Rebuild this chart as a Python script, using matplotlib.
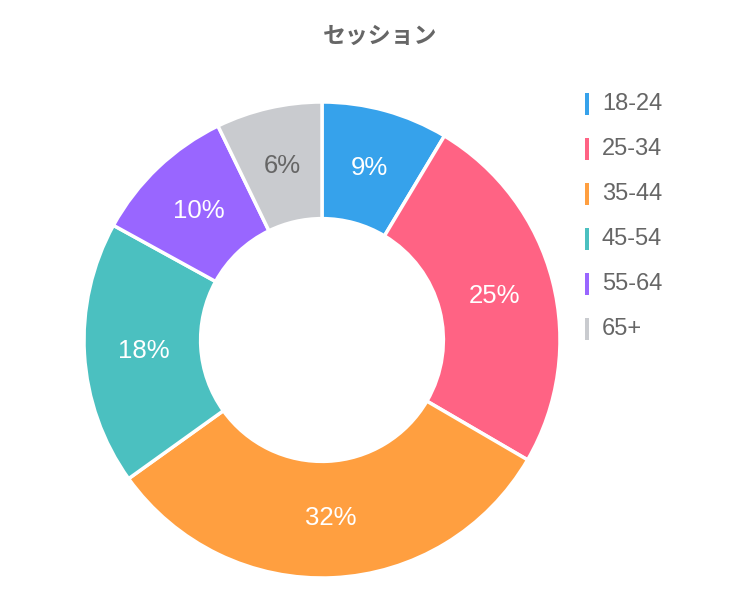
import matplotlib
matplotlib.use("Agg")
import matplotlib.pyplot as plt
from matplotlib.patches import Rectangle

categories = ["18-24", "25-34", "35-44", "45-54", "55-64", "65+"]
values = [8.6, 24.8, 31.7, 17.9, 9.8, 7.2]
value_labels = ["9%", "25%", "32%", "18%", "10%", "6%"]
colors = ["#36A2EB", "#FF6384", "#FF9F40", "#4BC0C0", "#9966FF", "#C9CBCF"]
label_colors = ["white", "white", "white", "white", "white", "#666666"]
title = "セッション"

plt.rcParams['font.family'] = ['Liberation Sans', 'Noto Sans CJK JP', 'DejaVu Sans']

W, H = 738, 598
fig = plt.figure(figsize=(W / 100, H / 100), dpi=100)
cx, cy, R = 322, 340, 238
ax = fig.add_axes([(cx - R) / W, (H - cy - R) / H, 2 * R / W, 2 * R / H])

wedges, texts = ax.pie(values, colors=colors, startangle=90, counterclock=False,
                       radius=1.0,
                       wedgeprops=dict(width=0.49, edgecolor="white", linewidth=2.5),
                       labels=value_labels, labeldistance=0.75,
                       textprops=dict(fontsize=18.5))
for t, c in zip(texts, label_colors):
    t.set_color(c)
    t.set_ha("center")
    t.set_va("center")
ax.set_aspect("equal")
ax.set_xlim(-1, 1)
ax.set_ylim(-1, 1)

fig.text(380 / W, 1 - 36 / H, title, ha="center", va="center", fontsize=16.5,
         fontweight="bold", color="#666666", family=['Noto Sans CJK JP', 'DejaVu Sans'])

# legend
y0, dy = 104, 45
for i, (cat, col) in enumerate(zip(categories, colors)):
    yc = y0 + i * dy
    fig.add_artist(Rectangle((585 / W, 1 - (yc + 11) / H), 4 / W, 22 / H,
                             transform=fig.transFigure, facecolor=col, edgecolor="none"))
    fig.text(602 / W, 1 - yc / H, cat, ha="left", va="center", fontsize=17,
             color="#666666")

fig.savefig("out.png", dpi=100)
